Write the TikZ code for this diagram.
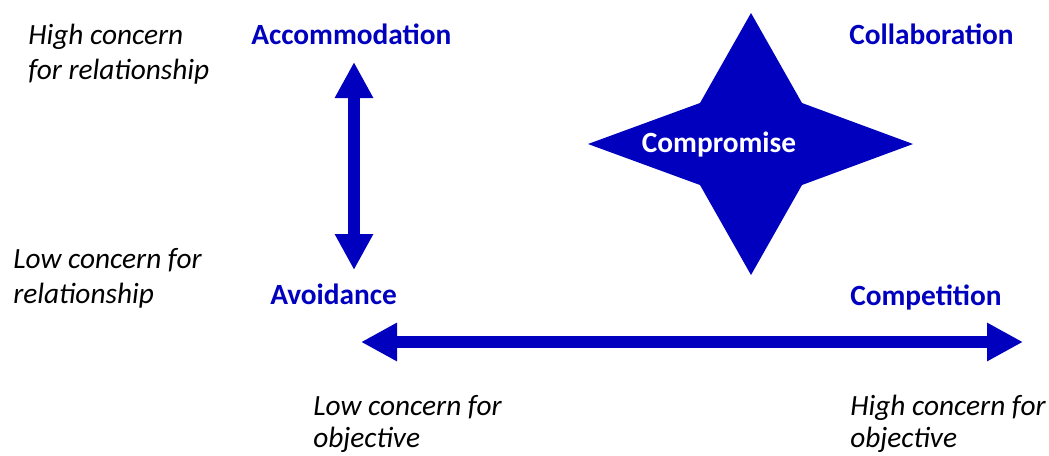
\documentclass[tikz,border=0pt]{standalone}
\usepackage{fontspec}
\setmainfont{Carlito}
\usetikzlibrary{positioning, arrows.meta}
\definecolor{modeblue}{RGB}{0,0,190}
\tikzset{
    concern/.style={font=\fontsize{22}{26}\selectfont\itshape, align=left, inner sep=0pt, anchor=base west},
    mode/.style={font=\fontsize{22}{26}\selectfont\bfseries, text=modeblue, inner sep=0pt, anchor=base west},
    fat arrow/.style={draw=modeblue, line width=9.5pt, {Triangle[width=27pt,length=27pt]}-{Triangle[width=27pt,length=27pt]}},
}

\begin{document}
\begin{tikzpicture}[x=0.75pt, y=-0.75pt]
            \useasboundingbox (0,0) rectangle (1049,455);

            % the star
            \fill[modeblue] (751,13) -- (802,103) -- (913,144) -- (802,185) -- (751,275)
                -- (700,185) -- (588,144) -- (700,103) -- cycle;
            \node[mode, text=white, anchor=base]  (compromise)  at (719,152) {Compromise};

            \node[mode]     (accommodation)  at (251,44)  {Accommodation};
            \node[mode]     (collaboration)  at (849,44)  {Collaboration};
            \node[mode]     (avoidance)      at (270,304) {Avoidance};
            \node[mode]     (competition)    at (850,305) {Competition};

            % base of a two-line node is its last line
            \node[concern]  (high rel)  at (28,79)   {High concern\\for relationship};
            \node[concern]  (low rel)   at (13,303)  {Low concern for\\relationship};
            \node[concern, font=\fontsize{22}{23.5}\selectfont\itshape]  (low obj)   at (313,447) {Low concern for\\objective};
            \node[concern, font=\fontsize{22}{23.5}\selectfont\itshape]  (high obj)  at (850,447) {High concern for\\objective};

            \coordinate (rel top)    at (354,62);
            \coordinate (rel bottom) at (354,270);
            \coordinate (obj left)   at (361,342);
            \coordinate (obj right)  at (1023,342);

            \draw[fat arrow] (rel top) -- (rel bottom);
            \draw[fat arrow] (obj left) -- (obj right);
        \end{tikzpicture}
\end{document}
